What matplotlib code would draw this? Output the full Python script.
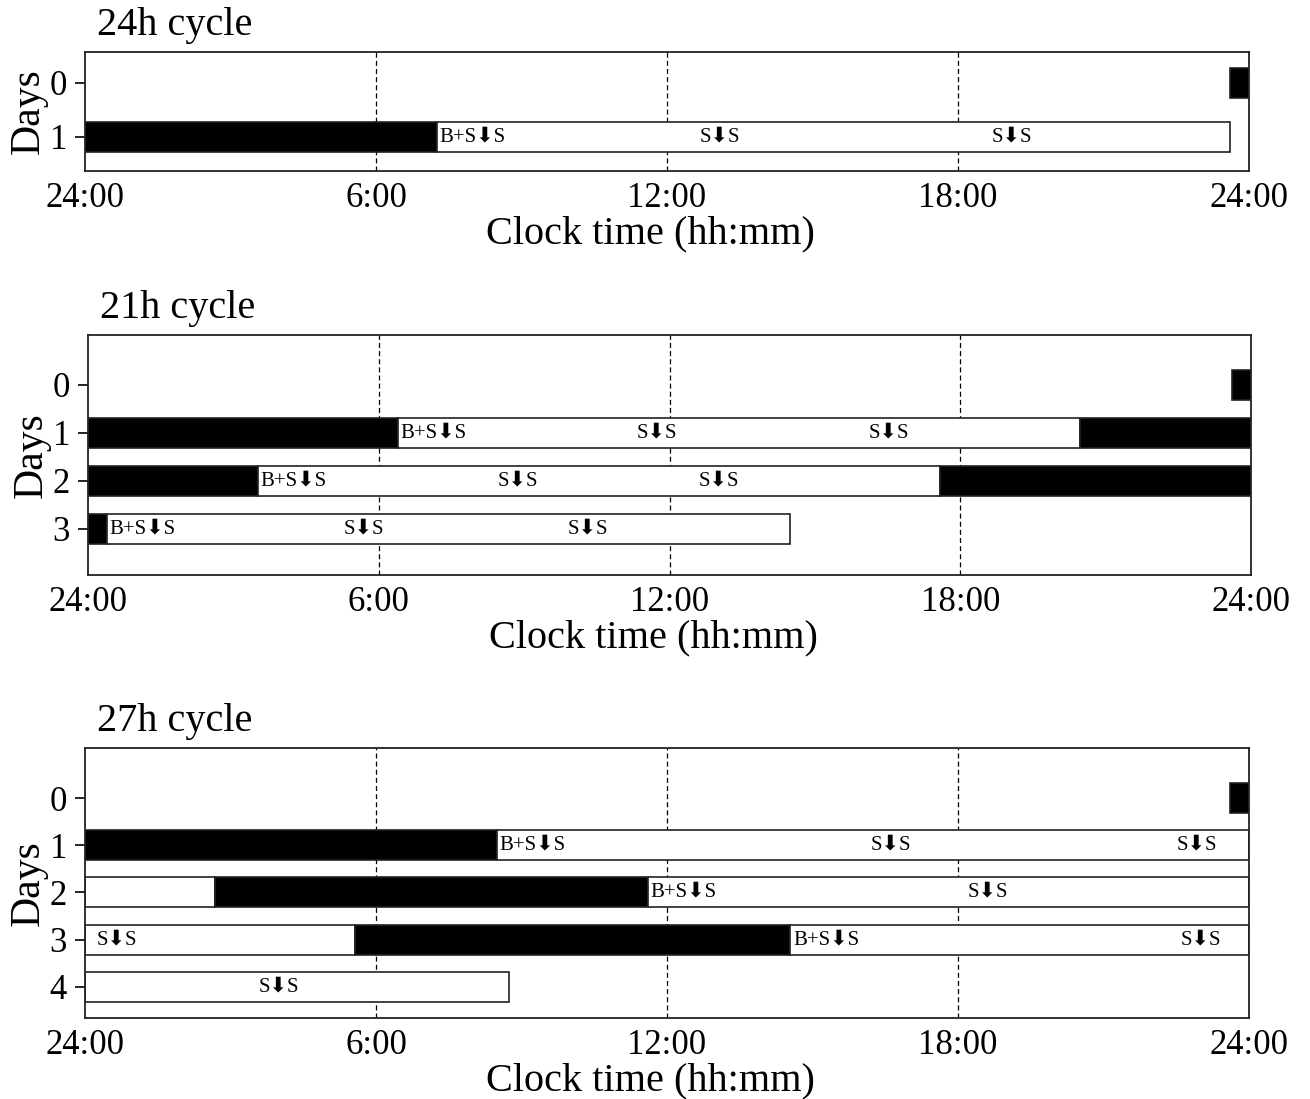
import matplotlib
matplotlib.use("Agg")
import matplotlib.pyplot as plt

plt.rcParams["font.family"] = ["Liberation Serif", "DejaVu Sans"]

# ---- data (hours of clock time, day index) ----
hour_ticks = [0, 6, 12, 18, 24]
hour_labels = ["24:00", "6:00", "12:00", "18:00", "24:00"]

# 24h cycle
c24_day = [0, 1, 1]
c24_start = [23.6, 0.0, 7.26]
c24_end = [24.0, 7.26, 23.6]
c24_sleep = [True, True, False]
c24_lab_day = [1, 1, 1]
c24_lab_x = [7.3, 12.68, 18.7]
c24_lab_txt = ["B+S\u2b07S", "S\u2b07S", "S\u2b07S"]

# 21h cycle
c21_day = [0, 1, 1, 1, 2, 2, 2, 3, 3]
c21_start = [23.6, 0.0, 6.4, 20.47, 0.0, 3.5, 17.58, 0.0, 0.4]
c21_end = [24.0, 6.4, 20.47, 24.0, 3.5, 17.58, 24.0, 0.4, 14.49]
c21_sleep = [True, True, False, True, True, False, True, True, False]
c21_lab_day = [1, 1, 1, 2, 2, 2, 3, 3, 3]
c21_lab_x = [6.45, 11.33, 16.1, 3.55, 8.46, 12.6, 0.45, 5.28, 9.9]
c21_lab_txt = ["B+S\u2b07S", "S\u2b07S", "S\u2b07S"] * 3

# 27h cycle
c27_day = [0, 1, 1, 2, 2, 2, 3, 3, 3, 4]
c27_start = [23.6, 0.0, 8.5, 0.0, 2.68, 11.6, 0.0, 5.57, 14.54, 0.0]
c27_end = [24.0, 8.5, 24.0, 2.68, 11.6, 24.0, 5.57, 14.54, 24.0, 8.74]
c27_sleep = [True, True, False, False, True, False, False, True, False, False]
c27_lab_day = [1, 1, 1, 2, 2, 3, 3, 3, 4]
c27_lab_x = [8.55, 16.2, 22.5, 11.65, 18.2, 0.23, 14.6, 22.6, 3.57]
c27_lab_txt = ["B+S\u2b07S", "S\u2b07S", "S\u2b07S", "B+S\u2b07S", "S\u2b07S",
               "S\u2b07S", "B+S\u2b07S", "S\u2b07S", "S\u2b07S"]


def draw_panel(ax, title, days, starts, ends, sleep, lab_day, lab_x, lab_txt,
               ylim, bar_h):
    for x in [6, 12, 18]:
        ax.axvline(x, color="black", lw=0.9, ls=(0, (4, 2.5)), zorder=0)
    widths = [e - s for s, e in zip(starts, ends)]
    colors = ["black" if s else "white" for s in sleep]
    ax.barh(days, widths, left=starts, height=bar_h, color=colors,
            edgecolor="#222222", linewidth=1.2, zorder=2)
    for d, x, t in zip(lab_day, lab_x, lab_txt):
        ax.text(x, d, t, ha="left", va="center", fontsize=15, zorder=3)
    ax.set_xlim(0, 24)
    ax.set_ylim(*ylim)
    ax.set_xticks(hour_ticks)
    ax.set_xticklabels(hour_labels)
    ax.tick_params(axis="x", length=0, labelsize=25, pad=8)
    ax.tick_params(axis="y", length=7, width=1.2, labelsize=25, pad=6)
    n_days = max(days) + 1
    ax.set_yticks(range(n_days))
    ax.set_xlabel("Clock time (hh:mm)", fontsize=29, labelpad=0)
    ax.xaxis.label.set_x(0.486)
    ax.set_ylabel("Days", fontsize=30, labelpad=1)
    ax.set_title(title, loc="left", fontsize=29, pad=12, x=0.01)
    for sp in ax.spines.values():
        sp.set_linewidth(1.3)
        sp.set_color("#222222")


fig = plt.figure(figsize=(13.10, 10.99), dpi=100)

ax1 = fig.add_axes([0.0649, 0.8444, 0.8885, 0.1083])
draw_panel(ax1, "24h cycle", c24_day, c24_start, c24_end, c24_sleep,
           c24_lab_day, c24_lab_x, c24_lab_txt, (1.63, -0.57), 0.56)

ax2 = fig.add_axes([0.0672, 0.4768, 0.8878, 0.2184])
draw_panel(ax2, "21h cycle", c21_day, c21_start, c21_end, c21_sleep,
           c21_lab_day, c21_lab_x, c21_lab_txt, (3.96, -1.04), 0.62)

ax3 = fig.add_axes([0.0649, 0.0737, 0.8885, 0.2457])
draw_panel(ax3, "27h cycle", c27_day, c27_start, c27_end, c27_sleep,
           c27_lab_day, c27_lab_x, c27_lab_txt, (4.66, -1.06), 0.635)

fig.savefig("out.png", dpi=100)
